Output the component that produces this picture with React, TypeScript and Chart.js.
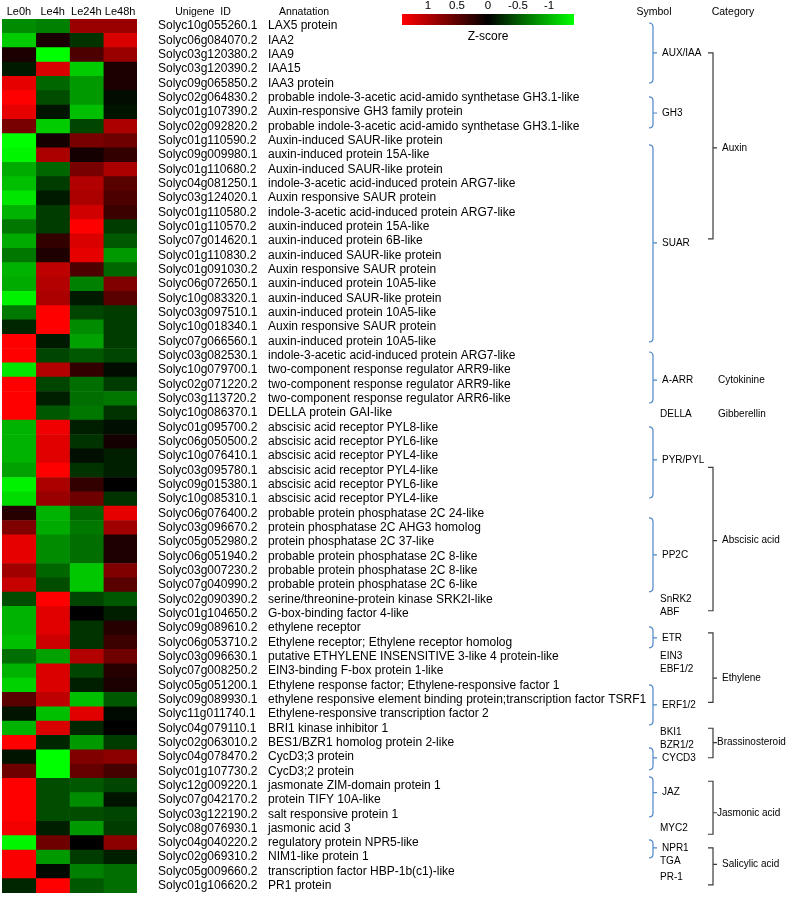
import React, { useEffect, useRef } from "react";
import { Chart, registerables } from "chart.js";

Chart.register(...registerables);

const COLUMNS = ["Le0h", "Le4h", "Le24h", "Le48h"];

const IDS = [
  "Solyc10g055260.1", "Solyc06g084070.2", "Solyc03g120380.2", "Solyc03g120390.2", "Solyc09g065850.2",
  "Solyc02g064830.2", "Solyc01g107390.2", "Solyc02g092820.2", "Solyc01g110590.2", "Solyc09g009980.1",
  "Solyc01g110680.2", "Solyc04g081250.1", "Solyc03g124020.1", "Solyc01g110580.2", "Solyc01g110570.2",
  "Solyc07g014620.1", "Solyc01g110830.2", "Solyc01g091030.2", "Solyc06g072650.1", "Solyc10g083320.1",
  "Solyc03g097510.1", "Solyc10g018340.1", "Solyc07g066560.1", "Solyc03g082530.1", "Solyc10g079700.1",
  "Solyc02g071220.2", "Solyc03g113720.2", "Solyc10g086370.1", "Solyc01g095700.2", "Solyc06g050500.2",
  "Solyc10g076410.1", "Solyc03g095780.1", "Solyc09g015380.1", "Solyc10g085310.1", "Solyc06g076400.2",
  "Solyc03g096670.2", "Solyc05g052980.2", "Solyc06g051940.2", "Solyc03g007230.2", "Solyc07g040990.2",
  "Solyc02g090390.2", "Solyc01g104650.2", "Solyc09g089610.2", "Solyc06g053710.2", "Solyc03g096630.1",
  "Solyc07g008250.2", "Solyc05g051200.1", "Solyc09g089930.1", "Solyc11g011740.1", "Solyc04g079110.1",
  "Solyc02g063010.2", "Solyc04g078470.2", "Solyc01g107730.2", "Solyc12g009220.1", "Solyc07g042170.2",
  "Solyc03g122190.2", "Solyc08g076930.1", "Solyc04g040220.2", "Solyc02g069310.2", "Solyc05g009660.2",
  "Solyc01g106620.2",
];

const ANNOTATIONS = [
  "LAX5 protein", "IAA2", "IAA9", "IAA15", "IAA3 protein",
  "probable indole-3-acetic acid-amido synthetase GH3.1-like",
  "Auxin-responsive GH3 family protein",
  "probable indole-3-acetic acid-amido synthetase GH3.1-like",
  "Auxin-induced SAUR-like protein", "auxin-induced protein 15A-like",
  "Auxin-induced SAUR-like protein", "indole-3-acetic acid-induced protein ARG7-like",
  "Auxin responsive SAUR protein", "indole-3-acetic acid-induced protein ARG7-like",
  "auxin-induced protein 15A-like", "auxin-induced protein 6B-like",
  "auxin-induced SAUR-like protein", "Auxin responsive SAUR protein",
  "auxin-induced protein 10A5-like", "auxin-induced SAUR-like protein",
  "auxin-induced protein 10A5-like", "Auxin responsive SAUR protein",
  "auxin-induced protein 10A5-like", "indole-3-acetic acid-induced protein ARG7-like",
  "two-component response regulator ARR9-like", "two-component response regulator ARR9-like",
  "two-component response regulator ARR6-like", "DELLA protein GAI-like",
  "abscisic acid receptor PYL8-like", "abscisic acid receptor PYL6-like",
  "abscisic acid receptor PYL4-like", "abscisic acid receptor PYL4-like",
  "abscisic acid receptor PYL6-like", "abscisic acid receptor PYL4-like",
  "probable protein phosphatase 2C 24-like", "protein phosphatase 2C AHG3 homolog",
  "protein phosphatase 2C 37-like", "probable protein phosphatase 2C 8-like",
  "probable protein phosphatase 2C 8-like", "probable protein phosphatase 2C 6-like",
  "serine/threonine-protein kinase SRK2I-like", "G-box-binding factor 4-like",
  "ethylene receptor", "Ethylene receptor; Ethylene receptor homolog",
  "putative ETHYLENE INSENSITIVE 3-like 4 protein-like", "EIN3-binding F-box protein 1-like",
  "Ethylene response factor; Ethylene-responsive factor 1",
  "ethylene responsive element binding protein;transcription factor TSRF1",
  "Ethylene-responsive transcription factor 2", "BRI1 kinase inhibitor 1",
  "BES1/BZR1 homolog protein 2-like", "CycD3;3 protein", "CycD3;2 protein",
  "jasmonate ZIM-domain protein 1", "protein TIFY 10A-like", "salt responsive protein 1",
  "jasmonic acid 3", "regulatory protein NPR5-like", "NIM1-like protein 1",
  "transcription factor HBP-1b(c1)-like", "PR1 protein",
];

const Z_LE0H = [
  -0.55, -0.8, 0.1, -0.1, 0.9, 1, 0.9, 0.47, -1, -0.96,
  -0.67, -0.75, -0.9, -0.7, -0.47, -0.67, -0.47, -0.7, -0.67, -0.95,
  -0.47, -0.15, 1, 1, -0.9, 1, 1, 1, -0.7, -0.7,
  -0.7, -0.63, -0.95, -0.86, 0.15, 0.5, 0.9, 0.9, 0.63, 0.78,
  -0.3, -0.7, -0.7, -0.75, -0.43, -0.7, -0.82, 0.35, -0.08, -0.7,
  1, -0.08, 0.43, 1, 1, 1, 0.95, -0.96, 0.98, 0.98,
  -0.15,
];
const Z_LE4H = [
  -0.5, 0.1, -1, 0.85, -0.4, -0.3, -0.08, -0.8, 0.08, 0.67,
  -0.4, -0.23, -0.1, -0.23, -0.23, 0.2, 0.12, 0.75, 0.7, 0.67,
  1, 1, -0.1, -0.27, 0.7, -0.27, -0.12, -0.35, 0.94, 0.88,
  0.88, 1, 0.67, 0.6, -0.7, -0.67, -0.55, -0.55, -0.4, -0.3,
  1, 0.88, 0.88, 0.8, -0.63, 0.86, 0.86, 0.75, -0.75, 0.86,
  -0.15, -1, -1, -0.3, -0.3, -0.3, -0.12, 0.43, -0.6, -0.04,
  1,
];
const Z_LE24H = [
  0.6, -0.2, 0.3, -0.8, -0.6, -0.6, -0.75, -0.27, 0.47, 0.08,
  0.47, 0.7, 0.67, 0.82, 1, 0.86, 0.9, 0.3, -0.5, -0.1,
  -0.27, -0.55, -0.63, -0.35, 0.2, -0.43, -0.43, -0.47, -0.12, -0.2,
  -0.06, -0.2, 0.2, 0.43, -0.4, -0.47, -0.43, -0.43, -0.78, -0.78,
  -0.27, 0, -0.2, -0.2, 0.7, -0.27, -0.12, -0.75, 0.88, -0.15,
  -0.6, 0.5, 0.4, -0.35, -0.55, -0.3, -0.6, 0, -0.23, -0.5,
  -0.35,
];
const Z_LE48H = [
  0.6, 0.85, 0.6, 0.1, 0.1, -0.05, -0.08, 0.67, 0.43, 0.2,
  0.67, 0.35, 0.3, 0.23, -0.23, -0.35, -0.6, -0.4, 0.5, 0.35,
  -0.23, -0.23, -0.23, -0.27, -0.05, -0.23, -0.47, -0.2, -0.06, 0.08,
  -0.12, -0.12, 0, -0.2, 0.9, 0.63, 0.12, 0.12, 0.5, 0.35,
  -0.35, -0.12, 0.15, 0.23, 0.43, 0.15, 0.1, -0.35, -0.04, 0,
  -0.23, 0.55, 0.27, -0.27, -0.08, -0.27, -0.23, 0.55, -0.12, -0.43,
  -0.43,
];

const LEGEND_TICKS = ["1", "0.5", "0", "-0.5", "-1"];

// Symbol groups: [label, bracketFromRow, bracketToRow, labelRow, hasBracket]
const SYMBOL_GROUPS: [string, number, number, number, boolean][] = [
  ["AUX/IAA", -0.22, 3.97, 1.87, true],
  ["GH3", 4.94, 7.1, 6.06, true],
  ["SUAR", 8.29, 22.04, 15.13, true],
  ["A-ARR", 22.74, 26.3, 24.7, true],
  ["DELLA", 27, 27, 27.1, false],
  ["PYR/PYL", 27.97, 32.93, 30.27, true],
  ["PP2C", 34.32, 39.48, 36.9, true],
  ["SnRK2", 40, 40, 40.0, false],
  ["ABF", 41, 41, 40.9, false],
  ["ETR", 41.93, 43.39, 42.7, true],
  ["EIN3", 44, 44, 44.0, false],
  ["EBF1/2", 45, 45, 44.9, false],
  ["ERF1/2", 45.98, 48.77, 47.37, true],
  ["BKI1", 49, 49, 49.3, false],
  ["BZR1/2", 50, 50, 50.2, false],
  ["CYCD3", 50.37, 51.9, 51.07, true],
  ["JAZ", 52.4, 55.19, 53.5, true],
  ["MYC2", 56, 56, 56.0, false],
  ["NPR1", 56.79, 58.05, 57.35, true],
  ["TGA", 58, 58, 58.3, false],
  ["PR-1", 60, 60, 59.4, false],
];

// Category groups: [label, fromRow, toRow, labelRow, hasBracket]
const CATEGORY_GROUPS: [string, number, number, number, boolean][] = [
  ["Auxin", 1.87, 14.85, 8.5, true],
  ["Cytokinine", 24.7, 24.7, 24.7, false],
  ["Gibberellin", 27.1, 27.1, 27.1, false],
  ["Abscisic acid", 30.8, 40.8, 35.9, true],
  ["Ethylene", 42.35, 47.2, 45.5, true],
  ["Brassinosteroid", 49.0, 51.06, 50.0, true],
  ["Jasmonic acid", 52.7, 56.4, 54.9, true],
  ["Salicylic acid", 57.35, 59.93, 58.5, true],
];

function zColor(z: number): string {
  const v = Math.round(Math.min(1, Math.abs(z)) * 255);
  return z >= 0 ? `rgb(${v},0,0)` : `rgb(0,${v},0)`;
}

const FONT = "'Liberation Sans', Arial, sans-serif";

const textPlugin = {
  id: "heatText",
  afterDraw(chart: any) {
    const ctx = chart.ctx as CanvasRenderingContext2D;
    const y = chart.scales.y;
    const x = chart.scales.x;
    ctx.save();
    ctx.fillStyle = "#000";
    ctx.textBaseline = "middle";

    // Column headers
    ctx.font = `11px ${FONT}`;
    ctx.textAlign = "center";
    COLUMNS.forEach((c, i) => {
      ctx.fillText(c, x.getPixelForValue(i + 0.5), 12);
    });

    // Table headers
    ctx.font = `10.5px ${FONT}`;
    ctx.fillText("Unigene  ID", 203, 12);
    ctx.fillText("Annatation", 304, 12);
    ctx.fillText("Symbol", 654, 12);
    ctx.fillText("Category", 733, 12);

    // Rows
    ctx.font = `12px ${FONT}`;
    ctx.textAlign = "left";
    IDS.forEach((id, i) => {
      const py = y.getPixelForValue(i);
      ctx.fillText(id, 158, py);
      ctx.fillText(ANNOTATIONS[i], 268, py);
    });

    // Legend color bar
    const bx0 = 402, bx1 = 574, by0 = 14, by1 = 25;
    const grad = ctx.createLinearGradient(bx0, 0, bx1, 0);
    grad.addColorStop(0, "rgb(255,0,0)");
    grad.addColorStop(0.5, "rgb(0,0,0)");
    grad.addColorStop(1, "rgb(0,255,0)");
    ctx.fillStyle = grad;
    ctx.fillRect(bx0, by0, bx1 - bx0, by1 - by0);
    ctx.fillStyle = "#000";
    ctx.textAlign = "center";
    ctx.font = `11.5px ${FONT}`;
    const tickX = [428, 457, 488, 518, 549];
    LEGEND_TICKS.forEach((t, i) => ctx.fillText(t, tickX[i], 6));
    ctx.font = `12px ${FONT}`;
    ctx.fillText("Z-score", 488, 37);

    // Symbol brackets
    const symX = 653;
    ctx.lineWidth = 1.2;
    ctx.font = `10px ${FONT}`;
    ctx.textAlign = "left";
    SYMBOL_GROUPS.forEach(([label, r0, r1, lr, br]) => {
      const ly = y.getPixelForValue(lr);
      if (br) {
        const top = y.getPixelForValue(r0);
        const bot = y.getPixelForValue(r1);
        const h = Math.min(4, (bot - top) / 3);
        ctx.strokeStyle = "#4f86c6";
        ctx.beginPath();
        ctx.moveTo(symX - 4, top);
        ctx.quadraticCurveTo(symX, top, symX, top + h);
        ctx.lineTo(symX, bot - h);
        ctx.quadraticCurveTo(symX, bot, symX - 4, bot);
        ctx.moveTo(symX, ly);
        ctx.lineTo(symX + 4, ly);
        ctx.stroke();
        ctx.fillStyle = "#000";
        ctx.fillText(label, symX + 9, ly);
      } else {
        ctx.fillStyle = "#000";
        ctx.fillText(label, symX + 7, ly);
      }
    });

    // Category brackets
    const catX = 713;
    CATEGORY_GROUPS.forEach(([label, r0, r1, lr, br]) => {
      const ly = y.getPixelForValue(lr);
      if (br) {
        const top = y.getPixelForValue(r0);
        const bot = y.getPixelForValue(r1);
        ctx.strokeStyle = "#3a3a3a";
        ctx.beginPath();
        ctx.moveTo(catX - 5, top);
        ctx.lineTo(catX, top);
        ctx.lineTo(catX, bot);
        ctx.lineTo(catX - 5, bot);
        ctx.moveTo(catX, ly);
        ctx.lineTo(catX + 4, ly);
        ctx.stroke();
        ctx.fillStyle = "#000";
        const lx = label === "Brassinosteroid" || label === "Jasmonic acid" ? catX + 4 : catX + 9;
        ctx.fillText(label, lx, ly);
      } else {
        ctx.fillStyle = "#000";
        ctx.fillText(label, catX + 5, ly);
      }
    });

    ctx.restore();
  },
};

export default function App() {
  const ref = useRef<HTMLCanvasElement | null>(null);

  useEffect(() => {
    if (!ref.current) return;
    const zCols = [Z_LE0H, Z_LE4H, Z_LE24H, Z_LE48H];
    const chart = new Chart(ref.current, {
      type: "bar",
      data: {
        labels: IDS,
        datasets: zCols.map((zs, i) => ({
          label: COLUMNS[i],
          data: zs.map(() => 1),
          backgroundColor: zs.map(zColor),
          borderWidth: 0,
          barPercentage: 1,
          categoryPercentage: 1,
        })),
      },
      options: {
        indexAxis: "y",
        animation: false,
        responsive: false,
        maintainAspectRatio: false,
        layout: { padding: { left: 2, right: 650, top: 19, bottom: 4 } },
        plugins: { legend: { display: false }, tooltip: { enabled: false } },
        scales: {
          x: { type: "linear", stacked: true, min: 0, max: 4, display: false },
          y: { type: "category", stacked: true, display: false },
        },
      },
      plugins: [textPlugin],
    });
    return () => chart.destroy();
  }, []);

  return (
    <div style={{ position: "absolute", left: 0, top: 0, width: 787, height: 897, background: "#fff" }}>
      <canvas ref={ref} width={787} height={897} style={{ display: "block" }} />
    </div>
  );
}
